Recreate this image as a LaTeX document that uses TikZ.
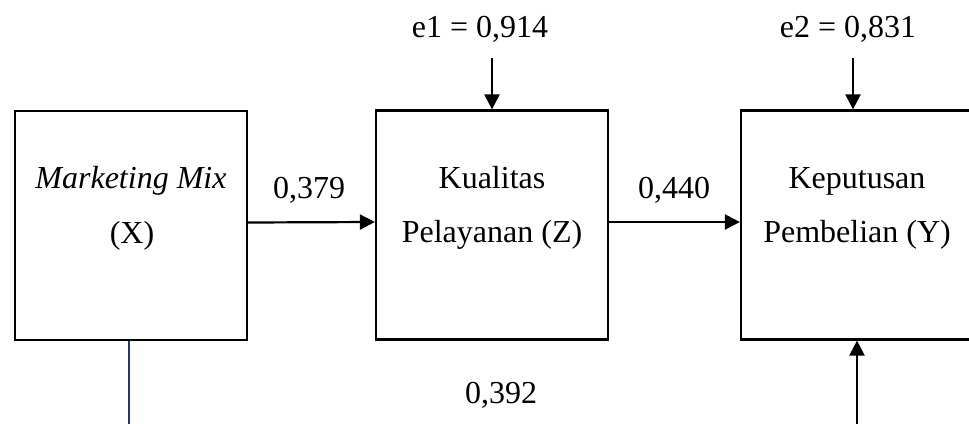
\documentclass[tikz,border=0pt]{standalone}
\usepackage{fontspec}
\setmainfont{Liberation Serif}
\usetikzlibrary{arrows.meta}
\tikzset{
  varbox/.style={draw=black, line width=2.2pt, rectangle, minimum width=232pt, minimum height=229pt, inner sep=0pt},
  lbl/.style={anchor=base, inner sep=0pt, font=\fontsize{32}{38}\selectfont},
  arr/.style={draw=black, line width=2.2pt, -{Triangle[length=15pt,width=15pt]}},
  link/.style={draw={rgb,255:red,31;green,56;blue,120}, line width=1.8pt}
}
\begin{document}
\begin{tikzpicture}[x=1pt,y=-1pt]
  \useasboundingbox (0,0) rectangle (969,423);
  \clip (0,0) rectangle (969,423);

  % variable boxes
  \node[varbox] (X) at (131,225.5) {};
  \node[varbox] (Z) at (492,225) {};
  \node[varbox] (Y) at (857,225) {};

  % box captions
  \node[lbl] (xa) at (131,188) {\textit{Marketing Mix}};
  \node[lbl] (xb) at (132,243) {(X)};
  \node[lbl] (za) at (492,188) {Kualitas};
  \node[lbl] (zb) at (492,242) {Pelayanan (Z)};
  \node[lbl] (ya) at (857,188) {Keputusan};
  \node[lbl] (yb) at (857,242) {Pembelian (Y)};

  % error terms
  \node[lbl] (e1) at (480,37) {e1 = 0,914};
  \node[lbl] (e2) at (848,37) {e2 = 0,831};
  \coordinate (e1top) at (492,58);
  \coordinate (e2top) at (853,58);
  \draw[arr] (e1top) -- (e1top |- Z.north);
  \draw[arr] (e2top) -- (e2top |- Y.north);

  % path coefficients
  \node[lbl] (p1) at (309,198) {0,379};
  \node[lbl] (p2) at (674,198) {0,440};
  \node[lbl] (p3) at (501,403) {0,392};
  \draw[arr] ([yshift=3pt]X.east) -- ([yshift=3pt]Z.west);
  \draw[arr] ([yshift=3pt]Z.east) -- ([yshift=3pt]Y.west);

  % direct path X -> Y running below
  \coordinate (xdown) at (129,425);
  \coordinate (yup) at (857,425);
  \draw[link] (xdown |- X.south) -- (xdown);
  \draw[arr] (yup) -- (Y.south);
\end{tikzpicture}
\end{document}
